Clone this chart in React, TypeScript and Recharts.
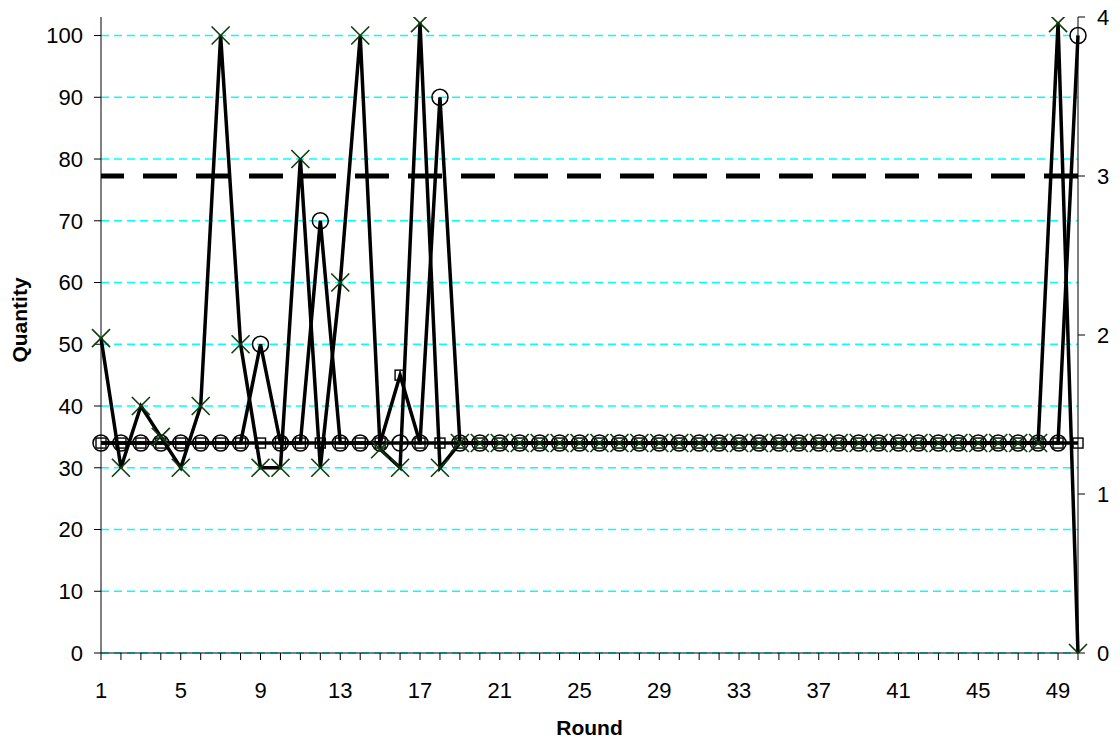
import React from 'react';
import { LineChart, Line, XAxis, YAxis, CartesianGrid, ReferenceLine } from 'recharts';

const rounds = [
  1, 2, 3, 4, 5, 6, 7, 8, 9, 10, 11, 12, 13, 14, 15, 16, 17, 18, 19, 20, 21, 22, 23, 24, 25,
  26, 27, 28, 29, 30, 31, 32, 33, 34, 35, 36, 37, 38, 39, 40, 41, 42, 43, 44, 45, 46, 47, 48, 49, 50,
];

// series drawn with green X markers
const crossSeries = [
  51, 30, 40, 35, 30, 40, 100, 50, 30, 30, 80, 30, 60, 100, 33, 30, 102, 30, 34, 34,
  34, 34, 34, 34, 34, 34, 34, 34, 34, 34, 34, 34, 34, 34, 34, 34, 34, 34, 34, 34,
  34, 34, 34, 34, 34, 34, 34, 34, 102, 0,
];

// series drawn with circle markers
const circleSeries = [
  34, 34, 34, 34, 34, 34, 34, 34, 50, 34, 34, 70, 34, 34, 34, 34, 34, 90, 34, 34,
  34, 34, 34, 34, 34, 34, 34, 34, 34, 34, 34, 34, 34, 34, 34, 34, 34, 34, 34, 34,
  34, 34, 34, 34, 34, 34, 34, 34, 34, 100,
];

// series drawn with square markers
const squareSeries = [
  34, 34, 34, 34, 34, 34, 34, 34, 34, 34, 34, 34, 34, 34, 34, 45, 34, 34, 34, 34,
  34, 34, 34, 34, 34, 34, 34, 34, 34, 34, 34, 34, 34, 34, 34, 34, 34, 34, 34, 34,
  34, 34, 34, 34, 34, 34, 34, 34, 34, 34,
];

const referenceLevel = 3; // on the right axis

const xTickLabels = [1, 5, 9, 13, 17, 21, 25, 29, 33, 37, 41, 45, 49];
const leftTicks = [0, 10, 20, 30, 40, 50, 60, 70, 80, 90, 100];
const rightTicks = [0, 1, 2, 3, 4];

const data = rounds.map((r, i) => ({
  round: r,
  cross: crossSeries[i],
  circle: circleSeries[i],
  square: squareSeries[i],
}));

const FONT = '"Liberation Sans", Arial, sans-serif';

const CrossDot = (props: any) => {
  const { cx, cy, index } = props;
  if (cx == null || cy == null) return <g key={`x-${index}`} />;
  const s = 9;
  return (
    <g key={`x-${index}`}>
      <line x1={cx - s} y1={cy - s} x2={cx + s} y2={cy + s} stroke="#0a3d0a" strokeWidth={1.6} />
      <line x1={cx - s} y1={cy + s} x2={cx + s} y2={cy - s} stroke="#0a3d0a" strokeWidth={1.6} />
    </g>
  );
};

const CircleDot = (props: any) => {
  const { cx, cy, index } = props;
  if (cx == null || cy == null) return <g key={`c-${index}`} />;
  return <circle key={`c-${index}`} cx={cx} cy={cy} r={8} fill="none" stroke="#000" strokeWidth={1.5} />;
};

const SquareDot = (props: any) => {
  const { cx, cy, index } = props;
  if (cx == null || cy == null) return <g key={`s-${index}`} />;
  return <rect key={`s-${index}`} x={cx - 5} y={cy - 5} width={10} height={10} fill="none" stroke="#000" strokeWidth={1.4} />;
};

const quantityLabel = (props: any) => {
  const vb = props.viewBox || {};
  const x = 19;
  const y = (vb.y ?? 17) + (vb.height ?? 636) / 2 - 15;
  return (
    <text
      x={x}
      y={y}
      transform={`rotate(-90, ${x}, ${y})`}
      textAnchor="middle"
      dominantBaseline="central"
      fontFamily={FONT}
      fontSize={21}
      fontWeight="bold"
      fill="#000"
    >
      Quantity
    </text>
  );
};

const roundLabel = (props: any) => {
  const vb = props.viewBox || {};
  const x = (vb.x ?? 101) + (vb.width ?? 977) / 2;
  const y = 727;
  return (
    <text x={x} y={y} textAnchor="middle" dominantBaseline="central" fontFamily={FONT} fontSize={21} fontWeight="bold" fill="#000">
      Round
    </text>
  );
};

export default function App() {
  return (
    <div style={{ width: 1120, height: 742, margin: '-8px 0 0 -8px', fontFamily: FONT }}>
      <LineChart width={1120} height={742} data={data} margin={{ top: 17, right: 0, bottom: 0, left: 0 }}>
        <CartesianGrid
          yAxisId="left"
          vertical={false}
          horizontalValues={leftTicks}
          syncWithTicks
          stroke="#00ffff"
          strokeDasharray="8 5"
          strokeWidth={1.5}
        />
        <XAxis
          dataKey="round"
          type="number"
          domain={[1, 50]}
          ticks={rounds}
          interval={0}
          height={89}
          tickSize={7}
          tickMargin={18}
          tickFormatter={(v: number) => (xTickLabels.includes(v) ? String(v) : '')}
          tick={{ fontSize: 22, fill: '#000', fontFamily: FONT, dy: 4 }}
          axisLine={{ stroke: '#000', strokeWidth: 1 }}
          tickLine={{ stroke: '#000', strokeWidth: 1 }}
          label={roundLabel}
        />
        <YAxis
          yAxisId="left"
          orientation="left"
          type="number"
          domain={[0, 103]}
          ticks={leftTicks}
          interval={0}
          allowDataOverflow
          width={101}
          tickSize={7}
          tickMargin={11}
          tick={{ fontSize: 22, fill: '#000', fontFamily: FONT }}
          axisLine={{ stroke: '#000', strokeWidth: 1 }}
          tickLine={{ stroke: '#000', strokeWidth: 1 }}
          label={quantityLabel}
        />
        <YAxis
          yAxisId="right"
          orientation="right"
          type="number"
          domain={[0, 4]}
          ticks={rightTicks}
          interval={0}
          allowDataOverflow
          width={42}
          tickSize={7}
          tickMargin={12}
          tick={{ fontSize: 22, fill: '#000', fontFamily: FONT }}
          axisLine={{ stroke: '#000', strokeWidth: 1 }}
          tickLine={{ stroke: '#000', strokeWidth: 1 }}
        />
        <ReferenceLine yAxisId="right" y={referenceLevel} stroke="#000" strokeWidth={5} strokeDasharray="34 19" />
        <Line
          yAxisId="left"
          type="linear"
          dataKey="square"
          stroke="#000"
          strokeWidth={3.5}
          dot={SquareDot}
          activeDot={false}
          isAnimationActive={false}
        />
        <Line
          yAxisId="left"
          type="linear"
          dataKey="circle"
          stroke="#000"
          strokeWidth={3.5}
          dot={CircleDot}
          activeDot={false}
          isAnimationActive={false}
        />
        <Line
          yAxisId="left"
          type="linear"
          dataKey="cross"
          stroke="#000"
          strokeWidth={3.5}
          dot={CrossDot}
          activeDot={false}
          isAnimationActive={false}
        />
      </LineChart>
    </div>
  );
}
